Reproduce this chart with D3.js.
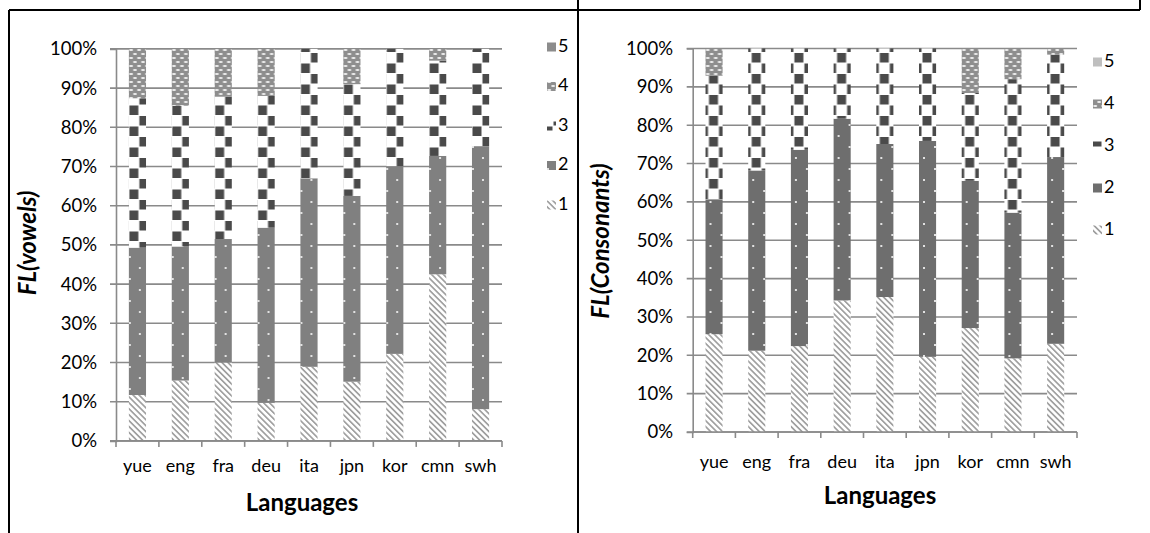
<!DOCTYPE html>
<html>
<head>
<meta charset="utf-8">
<script src="https://cdn.jsdelivr.net/npm/d3@7"></script>
<style>
  html, body { margin: 0; padding: 0; background: #fff; }
  svg { display: block; }
  text { font-family: Lato, "Open Sans", sans-serif; fill: #000; }
</style>
</head>
<body>
<svg id="chart" width="1150" height="533"></svg>
<script>
// ---- data ----
const categories = ["yue", "eng", "fra", "deu", "ita", "jpn", "kor", "cmn", "swh"];
const seriesNames = ["1", "2", "3", "4", "5"];
const yTicks = [0, 10, 20, 30, 40, 50, 60, 70, 80, 90, 100];

// FL(vowels), percent share of each level
const vowels1 = [11.7, 15.4, 20.0, 9.7, 18.9, 15.1, 22.2, 42.5, 8.1];
const vowels2 = [37.6, 34.2, 31.5, 44.7, 48.1, 47.4, 47.9, 30.2, 67.1];
const vowels3 = [38.1, 35.9, 36.3, 33.6, 33.0, 28.5, 29.9, 24.3, 24.8];
const vowels4 = [12.6, 14.5, 12.2, 12.0, 0.0, 9.0, 0.0, 3.0, 0.0];
const vowels5 = [0, 0, 0, 0, 0, 0, 0, 0, 0];

// FL(Consonants)
const cons1 = [25.5, 21.2, 22.4, 34.3, 35.2, 19.6, 27.1, 19.2, 23.0];
const cons2 = [35.2, 47.0, 51.2, 47.4, 39.9, 56.3, 38.4, 38.0, 48.7];
const cons3 = [32.2, 31.8, 26.4, 18.3, 24.9, 24.1, 22.9, 34.8, 26.7];
const cons4 = [7.1, 0.0, 0.0, 0.0, 0.0, 0.0, 11.6, 8.0, 1.6];
const cons5 = [0, 0, 0, 0, 0, 0, 0, 0, 0];

const svg = d3.select("#chart");
const defs = svg.append("defs");

// pattern builders; each pattern is anchored at (ox, oy)
function hatch(id, ox, oy) {
  const p = defs.append("pattern").attr("id", id)
    .attr("patternUnits", "userSpaceOnUse").attr("width", 4.2).attr("height", 4.2)
    .attr("patternTransform", `translate(${ox},${oy}) rotate(-45)`);
  p.append("rect").attr("width", 4.2).attr("height", 4.2).attr("fill", "#fff");
  p.append("rect").attr("width", 1.7).attr("height", 4.2).attr("fill", "#a0a0a0");
}
function dots(id, ox, oy, base, w, d1, d2) {
  const p = defs.append("pattern").attr("id", id)
    .attr("patternUnits", "userSpaceOnUse").attr("x", ox).attr("y", oy)
    .attr("width", w).attr("height", 22);
  p.append("rect").attr("width", w).attr("height", 22).attr("fill", base);
  p.append("rect").attr("x", d1).attr("y", 3).attr("width", 2).attr("height", 2).attr("fill", "#e2e2e2");
  p.append("rect").attr("x", d2).attr("y", 14).attr("width", 2).attr("height", 2).attr("fill", "#e2e2e2");
}
function checker(id, ox, oy) {
  const p = defs.append("pattern").attr("id", id)
    .attr("patternUnits", "userSpaceOnUse").attr("x", ox).attr("y", oy)
    .attr("width", 20).attr("height", 21);
  p.append("rect").attr("width", 20).attr("height", 21).attr("fill", "#fff");
  p.append("rect").attr("x", 0.5).attr("y", 0.5).attr("width", 9).attr("height", 9.5).attr("fill", "#4a4a4a");
  p.append("rect").attr("x", 10.5).attr("y", 11).attr("width", 9).attr("height", 9.5).attr("fill", "#4a4a4a");
}
function ovals(id, ox, oy) {
  const p = defs.append("pattern").attr("id", id)
    .attr("patternUnits", "userSpaceOnUse").attr("x", ox).attr("y", oy)
    .attr("width", 8).attr("height", 8);
  p.append("rect").attr("width", 8).attr("height", 8).attr("fill", "#8e8e8e");
  p.append("ellipse").attr("cx", 2.2).attr("cy", 2).attr("rx", 2.1).attr("ry", 1).attr("fill", "#f2f2f2");
  p.append("ellipse").attr("cx", 6.2).attr("cy", 6).attr("rx", 2.1).attr("ry", 1).attr("fill", "#f2f2f2");
}

function drawChart(cfg) {
  const g = svg.append("g");
  const x = d3.scaleBand().domain(categories).range([cfg.x0, cfg.x1])
    .paddingInner(0.6).paddingOuter(0.3);
  const y = d3.scaleLinear().domain([0, 100]).range([cfg.y0, cfg.y1]);

  // patterns per bar, anchored at the bar's left edge
  function fillFor(k, key, bx) {
    const id = cfg.id + "s" + k + "_" + key;
    if (k === 0) hatch(id, bx, 0);
    else if (k === 1) dots(id, bx + cfg.dotOff, 0, cfg.solid2, cfg.dotW, cfg.dot1, cfg.dot2);
    else if (k === 2) checker(id, bx + cfg.checkOff, 0);
    else if (k === 3) ovals(id, bx, 0);
    else return cfg.solid5;
    return "url(#" + id + ")";
  }

  // gridlines
  g.append("g").selectAll("line").data(yTicks).join("line")
    .attr("x1", cfg.x0 - 6).attr("x2", cfg.x1)
    .attr("y1", d => y(d)).attr("y2", d => y(d))
    .attr("stroke", "#8a8a8a").attr("stroke-width", 1.6);

  // stacked bars
  const rows = categories.map((c, i) => {
    const r = { cat: c };
    seriesNames.forEach((s, k) => r[s] = cfg.series[k][i]);
    return r;
  });
  const stack = d3.stack().keys(seriesNames)(rows);
  g.append("g").selectAll("g").data(stack).join("g")
    .each(function(layer, k) {
      d3.select(this).selectAll("rect").data(layer).join("rect")
        .attr("x", d => x(d.data.cat))
        .attr("width", x.bandwidth())
        .attr("y", d => y(d[1]))
        .attr("height", d => Math.max(0, y(d[0]) - y(d[1])))
        .attr("fill", d => fillFor(k, d.data.cat, x(d.data.cat)));
    });

  // y axis
  const yAxis = d3.axisLeft(y).tickValues(yTicks).tickSize(6).tickFormat(d => d + "%");
  const ya = g.append("g").attr("transform", `translate(${cfg.x0},0)`).call(yAxis);
  ya.select(".domain").attr("stroke", "#8a8a8a").attr("stroke-width", 1.6);
  ya.selectAll(".tick line").remove();
  ya.selectAll(".tick text").attr("x", cfg.labelX - cfg.x0).attr("font-size", 18.5)
    .attr("font-family", "Lato, sans-serif").attr("fill", "#000");

  // x axis
  const xa = g.append("g").attr("transform", `translate(0,${cfg.y0})`);
  xa.append("line").attr("x1", cfg.x0).attr("x2", cfg.x1).attr("stroke", "#8a8a8a").attr("stroke-width", 1.6);
  const bounds = d3.range(categories.length + 1).map(i => cfg.x0 + i * x.step());
  xa.selectAll("line.t").data(bounds).join("line").attr("class", "t")
    .attr("x1", d => d).attr("x2", d => d).attr("y1", 0).attr("y2", 6)
    .attr("stroke", "#8a8a8a").attr("stroke-width", 1.6);
  xa.selectAll("text").data(categories).join("text")
    .attr("x", d => x(d) + x.bandwidth() / 2).attr("y", cfg.catY - cfg.y0)
    .attr("text-anchor", "middle").attr("dominant-baseline", "middle")
    .attr("font-size", 18).text(d => d);

  // axis titles
  g.append("text").attr("x", cfg.xTitle[0]).attr("y", cfg.xTitle[1])
    .attr("text-anchor", "middle").attr("dominant-baseline", "middle")
    .attr("font-size", 24).attr("font-weight", "bold").text("Languages");
  g.append("text")
    .attr("transform", `translate(${cfg.yTitle[0]},${cfg.yTitle[1]}) rotate(-90)`)
    .attr("text-anchor", "middle").attr("dominant-baseline", "middle")
    .attr("font-size", 24).attr("font-weight", "bold").attr("font-style", "italic")
    .text(cfg.yLabel);

  // legend (5 on top)
  const leg = g.append("g");
  const order = [4, 3, 2, 1, 0];
  order.forEach((k, j) => {
    const cy = cfg.legY0 + j * cfg.legStep;
    leg.append("rect").attr("x", cfg.legX).attr("y", cy - 4.5).attr("width", 9).attr("height", 9)
      .attr("fill", fillFor(k, "leg", cfg.legX - (k === 2 ? 4 : 0)));
    leg.append("text").attr("x", cfg.legX + 11).attr("y", cy)
      .attr("dominant-baseline", "middle").attr("font-size", 18).text(seriesNames[k]);
  });
}

drawChart({
  id: "v", x0: 116, x1: 502, y0: 440.9, y1: 48.9, labelX: 97, catY: 467,
  xTitle: [302, 505], yTitle: [30, 243], yLabel: "FL(vowels)",
  series: [vowels1, vowels2, vowels3, vowels4, vowels5],
  solid2: "#808080", solid5: "#8c8c8c",
  dotOff: 0, dotW: 20, dot1: 10, dot2: 0, checkOff: 0,
  legX: 547, legY0: 47, legStep: 39.5
});
drawChart({
  id: "c", x0: 692.7, x1: 1077, y0: 432, y1: 48.5, labelX: 673, catY: 463,
  xTitle: [880, 498], yTitle: [603, 241], yLabel: "FL(Consonants)",
  series: [cons1, cons2, cons3, cons4, cons5],
  solid2: "#6e6e6e", solid5: "#bfbfbf",
  dotOff: 0, dotW: 22, dot1: 4, dot2: 15, checkOff: -7,
  legX: 1093, legY0: 62, legStep: 42
});

// panel frame lines
const frame = svg.append("g").attr("stroke", "#000").attr("stroke-width", 2);
frame.append("line").attr("x1", 9).attr("x2", 578).attr("y1", 10).attr("y2", 10);
frame.append("line").attr("x1", 9).attr("x2", 9).attr("y1", 10).attr("y2", 533);
frame.append("line").attr("x1", 578).attr("x2", 578).attr("y1", 0).attr("y2", 533);
frame.append("line").attr("x1", 578).attr("x2", 1140).attr("y1", 10).attr("y2", 10);
frame.append("line").attr("x1", 1140).attr("x2", 1140).attr("y1", 0).attr("y2", 10);
</script>
</body>
</html>
